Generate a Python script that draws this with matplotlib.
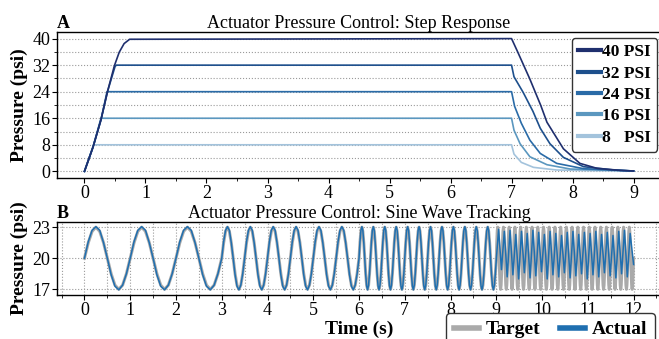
import matplotlib
matplotlib.use("Agg")
import matplotlib.pyplot as plt
from matplotlib.ticker import MultipleLocator

plt.rcParams['font.family'] = ['Liberation Serif', 'DejaVu Serif']

# ---- Panel A: step response (time in s, pressure in psi)
t_40 = [0, 0.14, 0.27, 0.38, 0.49, 0.57, 0.65, 0.74, 7.0, 7.1, 7.3, 7.48, 7.58, 7.85, 8.12, 8.4, 8.78, 9.0]
p_40 = [0, 7.3, 15.5, 24.2, 31.8, 35.9, 38.5, 39.8, 40.0, 36.0, 27.8, 19.8, 14.8, 6.8, 2.4, 0.9, 0.3, 0.1]
t_32 = [0, 0.14, 0.27, 0.38, 0.50, 0.52, 7.0, 7.04, 7.19, 7.35, 7.47, 7.63, 7.85, 8.18, 8.68, 9.0]
p_32 = [0, 7.3, 15.5, 24.2, 31.5, 32.0, 32.0, 28.5, 23.8, 18.1, 13.0, 8.3, 4.2, 1.4, 0.4, 0.1]
t_24 = [0, 0.14, 0.27, 0.37, 7.0, 7.05, 7.16, 7.30, 7.47, 7.74, 8.18, 9.0]
p_24 = [0, 7.3, 15.5, 24.0, 24.0, 19.6, 14.5, 9.4, 5.4, 2.4, 0.8, 0.1]
t_16 = [0, 0.14, 0.27, 7.0, 7.04, 7.14, 7.30, 7.58, 7.96, 9.0]
p_16 = [0, 7.3, 16.0, 16.0, 12.4, 8.3, 4.4, 2.0, 0.7, 0.1]
t_8 = [0, 0.15, 7.0, 7.04, 7.16, 7.36, 7.74, 8.4, 9.0]
p_8 = [0, 8.0, 8.0, 5.2, 2.7, 1.2, 0.4, 0.2, 0.1]

step_labels = ['40 PSI', '32 PSI', '24 PSI', '16 PSI', '8   PSI']
step_colors = ['#1f2f6e', '#1d4f8c', '#2a6ba7', '#5b97bf', '#a3c3dc']

# ---- Panel B: sine tracking
seg_start = [0, 3, 6, 9]          # s
seg_freq = [1, 2, 4, 8]           # Hz
seg_cycles = [3, 6, 12, 24]
# one cycle of the target, sampled every 1/12 cycle (offset from 20 psi)
target_cycle = [0.0, 1.5, 2.6, 3.0, 2.6, 1.5, 0.0, -1.5, -2.6, -3.0, -2.6, -1.5]
actual_cycle = [0.0, 1.6, 2.7, 3.05, 2.7, 1.5, 0.0, -1.6, -2.7, -3.05, -2.6, -1.5]
# actual response in the 8 Hz part: peak and trough of each cycle
peaks_8hz = [22.8, 22.6, 22.7, 22.3, 22.6, 22.4, 22.7, 22.5, 22.3, 22.6, 22.4, 22.2,
             22.5, 22.6, 22.3, 22.5, 22.4, 22.6, 22.3, 22.5, 22.2, 22.6, 22.7, 22.4]
troughs_8hz = [18.9, 18.2, 18.4, 18.0, 18.6, 18.1, 18.3, 18.7, 18.0, 18.4, 18.2, 18.6,
               18.1, 18.3, 18.5, 18.0, 18.4, 18.2, 18.6, 18.3, 18.1, 18.5, 18.2, 18.4]
lag_8hz = 0.15  # cycles

target_t, target_p = [], []
actual_t, actual_p = [], []
for start, f, n in zip(seg_start, seg_freq, seg_cycles):
    for k in range(n * 12):
        target_t.append(start + k / (12 * f))
        target_p.append(20 + target_cycle[k % 12])
        if f < 8:
            actual_t.append(start + k / (12 * f))
            actual_p.append(20 + actual_cycle[k % 12])
target_t.append(12.0)
target_p.append(20.0)
actual_t.append(9.0)
actual_p.append(19.9)
for k in range(24):
    actual_t += [9 + (k + 0.25 + lag_8hz) / 8, 9 + (k + 0.75 + lag_8hz) / 8]
    actual_p += [peaks_8hz[k], troughs_8hz[k]]
actual_t[-1] = 12.0
actual_p[-1] = 19.4

fig = plt.figure(figsize=(6.59, 3.39), dpi=100)
ax1 = fig.add_axes([0.0865, 0.475, 0.9166, 0.4307])
ax2 = fig.add_axes([0.0865, 0.1298, 0.9166, 0.2153])

steps = [(t_40, p_40), (t_32, p_32), (t_24, p_24), (t_16, p_16), (t_8, p_8)]
for (t, p), lab, c, z in zip(steps, step_labels, step_colors, [5, 4, 3, 2, 1]):
    ax1.plot(t, p, color=c, lw=1.2, label=lab, zorder=z)

ax1.set_xlim(-0.45, 9.45)
ax1.set_ylim(-2, 42)
ax1.set_xticks(range(0, 10))
ax1.set_yticks([0, 8, 16, 24, 32, 40])
ax1.yaxis.set_minor_locator(MultipleLocator(4))
ax1.xaxis.set_minor_locator(MultipleLocator(0.5))
ax1.yaxis.grid(True, which='both', linestyle=':', color='#9a9a9a', lw=0.8)
ax1.set_axisbelow(True)
ax1.set_ylabel('Pressure (psi)', fontsize=14, fontweight='bold', labelpad=3)
ax1.set_title('Actuator Pressure Control: Step Response', fontsize=13, pad=3)
ax1.set_title('A', loc='left', fontsize=13, fontweight='bold', pad=3)
leg = ax1.legend(loc='upper right', bbox_to_anchor=(657 / 659, 1 - 38 / 339),
                 bbox_transform=fig.transFigure, prop={'weight': 'bold', 'size': 12.5},
                 handlelength=1.35, handletextpad=0.05, labelspacing=0.3,
                 borderpad=0.35, borderaxespad=0, framealpha=1, fancybox=True)
leg.get_frame().set_edgecolor('#333333')
leg.get_frame().set_linewidth(1.0)
for h in leg.get_lines():
    h.set_linewidth(3)

ax2.plot(target_t, target_p, color='#aaaaaa', lw=2.2, label='Target', zorder=2)
ax2.plot(actual_t, actual_p, color='#1f6fb0', lw=1.1, label='Actual', zorder=3)
ax2.set_xlim(-0.6, 12.6)
ax2.set_ylim(16.45, 23.5)
ax2.set_yticks([17, 20, 23])
ax2.set_xticks(range(0, 13))
ax2.xaxis.set_minor_locator(MultipleLocator(0.5))
ax2.xaxis.grid(True, which='both', linestyle=':', color='#9a9a9a', lw=0.8)
ax2.yaxis.grid(True, which='major', linestyle=':', color='#9a9a9a', lw=0.8)
ax2.set_axisbelow(True)
ax2.set_ylabel('Pressure (psi)', fontsize=14, fontweight='bold', labelpad=3)
ax2.set_xlabel('Time (s)', fontsize=14, fontweight='bold', labelpad=1)
ax2.set_title('Actuator Pressure Control: Sine Wave Tracking', fontsize=13, pad=3)
ax2.set_title('B', loc='left', fontsize=13, fontweight='bold', pad=3)
leg2 = fig.legend(loc='upper left', bbox_to_anchor=(446 / 659, 1 - 313 / 339), ncol=2,
                  prop={'weight': 'bold', 'size': 14}, handlelength=1.3,
                  handletextpad=0.35, columnspacing=1.0, borderpad=0.4,
                  borderaxespad=0, framealpha=1, fancybox=True,
                  handles=ax2.get_lines())
leg2.get_frame().set_edgecolor('#333333')
leg2.get_frame().set_linewidth(1.0)
for h in leg2.get_lines():
    h.set_linewidth(4)

for ax in (ax1, ax2):
    ax.tick_params(axis='both', which='major', labelsize=13, length=3.5, pad=1.5)
    ax.tick_params(axis='both', which='minor', length=2)
    for s in ax.spines.values():
        s.set_linewidth(1.0)

fig.savefig('out.png', dpi=100)
